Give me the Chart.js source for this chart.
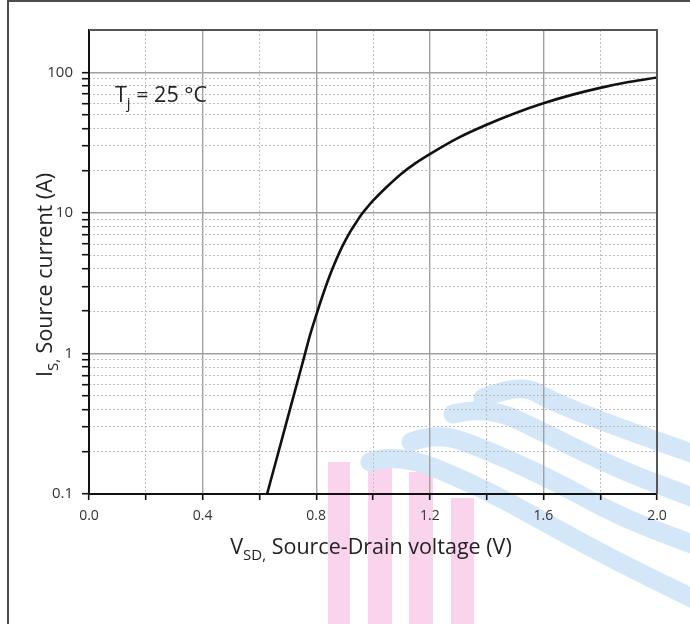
<!DOCTYPE html>
<html>
<head>
<meta charset="utf-8">
<script src="https://cdn.jsdelivr.net/npm/chart.js@4/dist/chart.umd.min.js"></script>
<style>
  html, body { margin: 0; padding: 0; background: #fff; }
  #wrap { width: 690px; height: 624px; }
</style>
</head>
<body>
<div id="wrap"><canvas id="chartDiode" width="690" height="624"></canvas></div>
<script>
// curve: source-drain voltage (V) vs source current (A)
var vsd = [0.627, 0.66, 0.70, 0.74, 0.76, 0.78, 0.80, 0.82, 0.84, 0.86, 0.88, 0.90, 0.92, 0.94, 0.96, 0.98, 1.00, 1.05, 1.10, 1.15, 1.20, 1.30, 1.40, 1.50, 1.60, 1.70, 1.80, 1.90, 2.00];
var current = [0.1, 0.176, 0.351, 0.697, 0.984, 1.39, 1.87, 2.49, 3.25, 4.13, 5.13, 6.21, 7.36, 8.51, 9.77, 10.96, 12.2, 15.4, 19.0, 22.6, 26.2, 34.2, 42.4, 51.2, 60.2, 69.1, 77.5, 85.2, 91.9];

var xMajor = [0.0, 0.4, 0.8, 1.2, 1.6, 2.0];
var xMinor = [0.2, 0.6, 1.0, 1.4, 1.8];
var yMajor = [0.1, 1, 10, 100];

// minor decade lines 2..9 for each decade
var yMinor = [];
yMajor.forEach(function (d) {
  if (d >= 100) return;
  for (var k = 2; k <= 9; k++) yMinor.push(+(d * k).toPrecision(3));
});
var xAll = xMajor.concat(xMinor).sort(function (a, b) { return a - b; });
var yAll = yMajor.concat(yMinor).sort(function (a, b) { return a - b; });

var points = vsd.map(function (v, i) { return { x: v, y: current[i] }; });

var FONT = "'Open Sans', 'DejaVu Sans', sans-serif";

function isMajorX(v) { return xMajor.some(function (m) { return Math.abs(m - v) < 1e-6; }); }
function isMajorY(v) { return yMajor.some(function (m) { return Math.abs(m - v) < 1e-9; }); }

// text with a subscript part: [ [text, isSub], ... ]
function drawParts(ctx, parts, x, y, align) {
  var big = '21.5px ' + FONT, small = '15px ' + FONT;
  var w = 0;
  parts.forEach(function (p) { ctx.font = p[1] ? small : big; w += ctx.measureText(p[0]).width; });
  var cx = align === 'center' ? x - w / 2 : x;
  ctx.textAlign = 'left';
  ctx.textBaseline = 'alphabetic';
  parts.forEach(function (p) {
    ctx.font = p[1] ? small : big;
    ctx.fillText(p[0], cx, p[1] ? y + 6 : y);
    cx += ctx.measureText(p[0]).width;
  });
}

var watermark = {
  id: 'watermark',
  beforeDraw: function (chart) {
    var ctx = chart.ctx;
    ctx.save();
    ctx.fillStyle = 'rgb(250, 212, 236)';
    [[328, 350, 462], [368, 392, 458], [409, 433, 472], [451, 474, 498]].forEach(function (s) {
      ctx.fillRect(s[0], s[2], s[1] - s[0], 624 - s[2]);
    });
    ctx.strokeStyle = 'rgb(212, 231, 249)';
    ctx.lineWidth = 19;
    ctx.lineCap = 'round';
    ctx.lineJoin = 'round';
    var bands = [
      [[370, 462], [398, 452], [487, 490], [553, 527], [620, 563], [700, 602]],
      [[411, 442], [437, 432], [487, 450], [553, 480], [620, 517], [700, 547]],
      [[453, 414], [487, 405], [553, 437], [620, 470], [700, 500]],
      [[483, 398], [520, 383], [553, 402], [620, 428], [700, 456]]
    ];
    bands.forEach(function (b) {
      ctx.beginPath();
      ctx.moveTo(b[0][0], b[0][1]);
      for (var i = 1; i < b.length - 1; i++) {
        var mx = (b[i][0] + b[i + 1][0]) / 2, my = (b[i][1] + b[i + 1][1]) / 2;
        ctx.quadraticCurveTo(b[i][0], b[i][1], mx, my);
      }
      ctx.lineTo(b[b.length - 1][0], b[b.length - 1][1]);
      ctx.stroke();
    });
    ctx.restore();
  },
  afterDraw: function (chart) {
    var ctx = chart.ctx, a = chart.chartArea;
    ctx.save();
    // outer frame
    ctx.strokeStyle = '#4d4d4d';
    ctx.lineWidth = 2;
    ctx.strokeRect(8, 1, 700, 700);
    // top and right edge of the plot
    ctx.strokeStyle = '#555';
    ctx.lineWidth = 2;
    ctx.beginPath();
    ctx.moveTo(a.left, a.top);
    ctx.lineTo(a.right, a.top);
    ctx.lineTo(a.right, a.bottom);
    ctx.stroke();

    ctx.fillStyle = '#222';
    drawParts(ctx, [['T', false], ['j', true], [' = 25 \u00B0C', false]], 115, 102, 'left');
    drawParts(ctx, [['V', false], ['SD', true], [',', true], [' Source-Drain voltage (V)', false]], 371, 554, 'center');

    ctx.translate(52, 275);
    ctx.rotate(-Math.PI / 2);
    drawParts(ctx, [['I', false], ['S', true], [',', true], [' Source current (A)', false]], 0, 0, 'center');
    ctx.restore();
  }
};

var chartDiode = new Chart(document.getElementById('chartDiode'), {
  type: 'line',
  data: {
    datasets: [{
      label: 'IS',
      data: points,
      xAxisID: 'x',
      yAxisID: 'y',
      borderColor: '#111',
      borderWidth: 2.6,
      pointRadius: 0,
      fill: false,
      cubicInterpolationMode: 'monotone'
    }]
  },
  options: {
    responsive: false,
    animation: false,
    layout: { padding: { left: 0, top: 30, right: 33, bottom: 0 } },
    plugins: { legend: { display: false }, tooltip: { enabled: false } },
    scales: {
      x: {
        type: 'linear',
        position: 'bottom',
        min: 0,
        max: 2,
        afterBuildTicks: function (s) { s.ticks = xAll.map(function (v) { return { value: v }; }); },
        afterFit: function (s) { s.height = 130; },
        ticks: {
          autoSkip: false,
          maxRotation: 0,
          padding: 8,
          color: '#333',
          font: { family: FONT, size: 14 },
          callback: function (v) { return isMajorX(v) ? v.toFixed(1) : ''; }
        },
        grid: {
          color: function (c) {
            var v = c.tick ? c.tick.value : 0;
            return isMajorX(v) && v > 0 && v < 2 ? '#a0a0a0' : 'rgba(0,0,0,0)';
          },
          lineWidth: 1.4,
          tickColor: '#111',
          tickLength: 6,
          tickWidth: 1.6
        },
        border: { color: '#111', width: 2 }
      },
      x2: {
        type: 'linear',
        position: 'bottom',
        min: 0,
        max: 2,
        afterBuildTicks: function (s) { s.ticks = xMinor.map(function (v) { return { value: v }; }); },
        afterFit: function (s) { s.height = 0; },
        ticks: { display: false, autoSkip: false },
        grid: { color: '#bdbdbd', lineWidth: 1, drawTicks: false },
        border: { display: false, dash: [2, 2] }
      },
      y: {
        type: 'logarithmic',
        position: 'left',
        min: 0.1,
        max: 200,
        afterBuildTicks: function (s) { s.ticks = yAll.map(function (v) { return { value: v }; }); },
        afterFit: function (s) { s.width = 89; },
        ticks: {
          autoSkip: false,
          padding: 9,
          color: '#333',
          font: { family: FONT, size: 15 },
          callback: function (v) { return isMajorY(v) ? String(v) : ''; }
        },
        grid: {
          color: function (c) {
            var v = c.tick ? c.tick.value : 0;
            return isMajorY(v) && v > 0.1 ? '#a0a0a0' : 'rgba(0,0,0,0)';
          },
          lineWidth: 1.4,
          tickColor: '#111',
          tickLength: 7,
          tickWidth: 1.6
        },
        border: { color: '#111', width: 2 }
      },
      y2: {
        type: 'logarithmic',
        position: 'left',
        min: 0.1,
        max: 200,
        afterBuildTicks: function (s) { s.ticks = yMinor.map(function (v) { return { value: v }; }); },
        afterFit: function (s) { s.width = 0; },
        ticks: { display: false, autoSkip: false },
        grid: { color: '#bdbdbd', lineWidth: 1, drawTicks: false },
        border: { display: false, dash: [2, 2] }
      }
    }
  },
  plugins: [watermark]
});
</script>
</body>
</html>
